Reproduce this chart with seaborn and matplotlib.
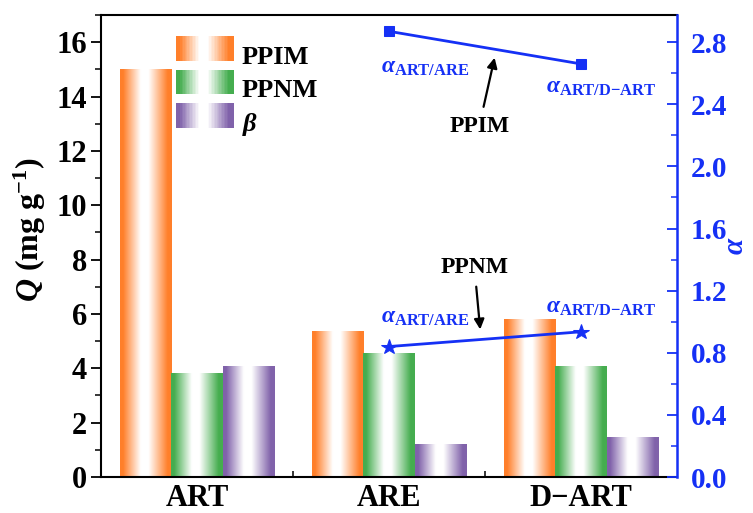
import numpy as np
import pandas as pd
import matplotlib
matplotlib.use("Agg")
import matplotlib.pyplot as plt
import seaborn as sns
from matplotlib.legend_handler import HandlerBase
from matplotlib.patches import Rectangle
from matplotlib.ticker import MultipleLocator, FormatStrFormatter
import matplotlib.colors as mcolors

# ---------------- data ----------------
samples = ["ART", "ARE", "D\u2212ART"]
series = ["PPIM", "PPNM", "\u03b2"]
q_ppim = [15.0, 5.37, 5.80]
q_ppnm = [3.82, 4.58, 4.08]
beta = [4.08, 1.20, 1.46]
alpha_x = [1, 2]
alpha_ppim = [2.87, 2.66]
alpha_ppnm = [0.84, 0.935]
alpha_labels = [r"$\alpha_{\mathbf{ART/ARE}}$", r"$\alpha_{\mathbf{ART/D{-}ART}}$"]

colors = {"PPIM": "#ff7f2a", "PPNM": "#45ad4f", "\u03b2": "#8062aa"}
blue = "#1530f5"

sns.set_theme(style="white")
plt.rcParams["font.family"] = ["Liberation Serif", "DejaVu Serif"]
plt.rcParams["font.weight"] = "bold"
plt.rcParams["text.color"] = "black"
plt.rcParams["axes.labelcolor"] = "black"
plt.rcParams["xtick.color"] = "black"
plt.rcParams["ytick.color"] = "black"
plt.rcParams["mathtext.fontset"] = "custom"
plt.rcParams["mathtext.rm"] = "Liberation Serif:bold"
plt.rcParams["mathtext.bf"] = "Liberation Serif:bold"
plt.rcParams["mathtext.it"] = "Liberation Serif:italic"

df = pd.DataFrame({
    "sample": samples * 3,
    "series": [s for s in series for _ in samples],
    "Q": q_ppim + q_ppnm + beta,
})

fig = plt.figure(figsize=(7.53, 5.13), dpi=100)
ax = fig.add_axes([101 / 753, 1 - 477 / 513, 576 / 753, 462 / 513])

sns.barplot(data=df, x="sample", y="Q", hue="series", order=samples,
            hue_order=series, palette=colors, saturation=1, width=0.8,
            ax=ax, legend=False)


def weights(n=200):
    t = np.linspace(0, 1, n)
    return np.interp(t, [0, 0.06, 0.40, 0.55, 0.92, 1.0], [1, 1, 0, 0, 1, 1])


def grad_img(color):
    rgb = np.array(mcolors.to_rgb(color))
    w = weights()[:, None]
    img = w * rgb + (1 - w) * np.ones(3)
    return img[None, :, :]


for p in list(ax.patches):
    fc = p.get_facecolor()
    x0, y0 = p.get_x(), p.get_y()
    w, h = p.get_width(), p.get_height()
    p.set_edgecolor("none")
    im = ax.imshow(grad_img(fc[:3]), extent=[x0, x0 + w, y0, y0 + h],
                   aspect="auto", interpolation="bilinear", zorder=p.get_zorder() + 0.1)
    im.set_clip_path(p)

ax.set_xlim(-0.5, 2.5)
ax.set_ylim(0, 17)
ax.set_xlabel("")
ax.set_ylabel(r"$Q$ (mg g$^{-1}$)", fontsize=23, fontweight="bold", color="black")
ax.yaxis.set_label_coords(-0.092, 0.535)
ax.yaxis.set_major_locator(MultipleLocator(2))
ax.yaxis.set_minor_locator(MultipleLocator(1))
ax.tick_params(axis="y", which="major", direction="out", length=7, width=1.3,
               labelsize=22, left=True, pad=3, colors="black")
ax.tick_params(axis="y", which="minor", direction="out", length=4, width=1.1, left=True,
               colors="black")
ax.set_xticks([0, 1, 2])
ax.set_xticks([0.5, 1.5], minor=True)
ax.tick_params(axis="x", which="major", direction="in", length=7, width=1.3,
               labelsize=22, bottom=True, pad=5, colors="black")
ax.tick_params(axis="x", which="minor", direction="in", length=4, width=1.1, bottom=True,
               colors="black")
for lab in ax.get_xticklabels() + ax.get_yticklabels():
    lab.set_fontweight("bold")
for s in ["left", "bottom", "top"]:
    ax.spines[s].set_color("black")
    ax.spines[s].set_linewidth(1.5)
ax.spines["right"].set_visible(False)


class GradHandler(HandlerBase):
    def create_artists(self, legend, orig_handle, xd, yd, width, height, fontsize, trans):
        rgb = np.array(orig_handle.get_facecolor()[:3])
        w = weights(40)
        arts = []
        n = len(w)
        for i, wi in enumerate(w):
            c = wi * rgb + (1 - wi) * np.ones(3)
            r = Rectangle((xd + width * i / n, yd), width / n + 0.3, height,
                          facecolor=c, edgecolor="none", transform=trans)
            arts.append(r)
        return arts


handles = [Rectangle((0, 0), 1, 1, facecolor=colors[s]) for s in series]
leg = ax.legend(handles, [s if s != "\u03b2" else r"$\beta$" for s in series],
                handler_map={Rectangle: GradHandler()}, loc="upper left",
                bbox_to_anchor=(0.130, 0.94), frameon=False, fontsize=19,
                handlelength=2.2, handleheight=1.06, labelspacing=0.27,
                handletextpad=0.3, borderaxespad=0, borderpad=0)
for t in leg.get_texts():
    t.set_fontweight("bold")
    t.set_color("black")

# ---------------- alpha axis ----------------
ax2 = ax.twinx()
sns.lineplot(x=alpha_x, y=alpha_ppim, ax=ax2, color=blue, marker="s",
             markersize=7.5, markeredgecolor=blue, linewidth=2)
sns.lineplot(x=alpha_x, y=alpha_ppnm, ax=ax2, color=blue, marker="*",
             markersize=11.5, markeredgecolor=blue, linewidth=2)
ax2.set_ylim(0, 2.975)
ax2.set_xlim(-0.5, 2.5)
ax2.yaxis.set_major_locator(MultipleLocator(0.4))
ax2.yaxis.set_minor_locator(MultipleLocator(0.2))
ax2.tick_params(axis="y", which="major", direction="in", length=7, width=1.3,
                colors=blue, labelsize=21, right=True, pad=10)
ax2.tick_params(axis="y", which="minor", direction="in", length=4, width=1.1,
                colors=blue, right=True)
ax2.yaxis.set_major_formatter(FormatStrFormatter("%.1f"))
for lab in ax2.get_yticklabels():
    lab.set_fontweight("bold")
ax2.set_ylabel(r"$\alpha$", color=blue, fontsize=21)
ax2.yaxis.set_label_coords(1.08, 0.5)
for s in ["left", "bottom", "top"]:
    ax2.spines[s].set_visible(False)
ax2.spines["right"].set_color(blue)
ax2.spines["right"].set_linewidth(1.8)

offs_top = [(36, -36), (20, -24)]
offs_bot = [(36, 29), (20, 24)]
for i in range(2):
    ax2.annotate(alpha_labels[i], (alpha_x[i], alpha_ppim[i]), xytext=offs_top[i],
                 textcoords="offset pixels", ha="center", va="center",
                 color=blue, fontsize=17)
    ax2.annotate(alpha_labels[i], (alpha_x[i], alpha_ppnm[i]), xytext=offs_bot[i],
                 textcoords="offset pixels", ha="center", va="center",
                 color=blue, fontsize=17)

ax2.annotate("PPIM", xy=(1.55, 2.70), xytext=(1.47, 2.26), ha="center", va="center",
             fontsize=17, fontweight="bold", color="black",
             arrowprops=dict(arrowstyle="-|>", color="black", lw=1.6,
                             mutation_scale=15, shrinkA=4, shrinkB=0))
ax2.annotate("PPNM", xy=(1.475, 0.95), xytext=(1.445, 1.35), ha="center", va="center",
             fontsize=17, fontweight="bold", color="black",
             arrowprops=dict(arrowstyle="-|>", color="black", lw=1.6,
                             mutation_scale=15, shrinkA=4, shrinkB=0))

fig.savefig("out.png", dpi=100)
